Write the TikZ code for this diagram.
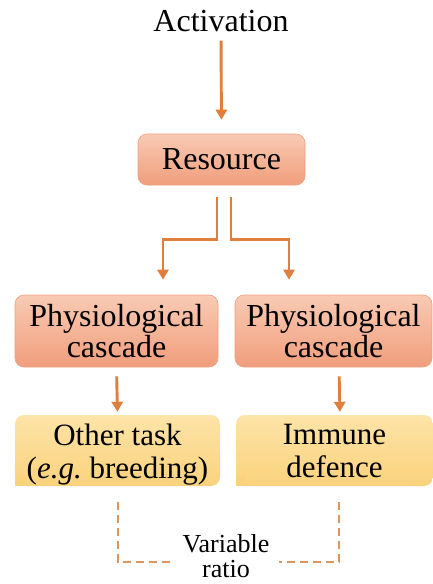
\documentclass[tikz,border=0pt]{standalone}
\usepackage{fontspec}
\setmainfont{Liberation Serif}
\usetikzlibrary{arrows.meta,calc}
\definecolor{arrc}{RGB}{224,126,60}
\definecolor{saltop}{RGB}{249,202,180}
\definecolor{salbot}{RGB}{240,158,124}
\definecolor{salline}{RGB}{236,160,128}
\definecolor{yeltop}{RGB}{253,228,168}
\definecolor{yelbot}{RGB}{250,210,124}
\definecolor{dashc}{RGB}{222,150,95}
\tikzset{
  arr/.style={draw=arrc, line width=2.9pt, -{Triangle[length=10pt,width=11pt]}},
  dashline/.style={draw=dashc, line width=2pt, dash pattern=on 8pt off 5pt},
  salbox/.style={rounded corners=9pt, top color=saltop, bottom color=salbot, draw=salline, line width=0.6pt,
     align=center, inner sep=0pt, font=\fontsize{32}{31}\selectfont},
  yelbox/.style={rounded corners=9pt, top color=yeltop, bottom color=yelbot,
     align=center, inner sep=0pt, font=\fontsize{31}{33}\selectfont\frenchspacing},
  plain/.style={inner sep=0pt, align=center}
}
\begin{document}
\begin{tikzpicture}[x=1pt,y=-1pt]
\useasboundingbox (0,0) rectangle (433,584);
% nodes
\node[plain, font=\fontsize{32}{32}\selectfont, anchor=base] (act) at (221,31) {Activation};
\node[salbox, minimum width=167pt, minimum height=51pt] (res) at (221.5,159.5) {Resource};
\node[salbox, minimum width=203pt, minimum height=72pt] (p1) at (116.5,331) {Physiological\\cascade};
\node[salbox, minimum width=197pt, minimum height=72pt] (p2) at (333.5,331) {Physiological\\cascade};
\node[yelbox, minimum width=205pt, minimum height=71pt] (y1) at (117.5,450.5) {\rule{0pt}{29pt}Other task\\(\textit{e.g.} breeding)};
\fill[yelbot] (y1.south west) rectangle ++(10,-10);
\node[yelbox, minimum width=197pt, minimum height=71pt] (y2) at (334.5,450.5) {\rule{0pt}{22pt}Immune\\defence};
\fill[yelbot] (y2.south west) rectangle ++(10,-10);
\node[plain, font=\fontsize{26}{25}\selectfont] (var) at (226,556) {Variable\\ratio};
% connectors
\draw[arr, shorten <=9pt, shorten >=14pt] (act.south) -- (res.north);
\draw[arr, shorten >=15pt] ([xshift=-4.5pt,yshift=-12pt]res.south) |- ([xshift=46.5pt,yshift=55pt]p1.north) -- ([xshift=46.5pt]p1.north);
\draw[arr, shorten >=15pt] ([xshift=9.5pt,yshift=-12pt]res.south) |- ([xshift=-44.5pt,yshift=55pt]p2.north) -- ([xshift=-44.5pt]p2.north);
\draw[arr, shorten <=9pt, shorten >=3pt] (p1.south) -- (y1.north);
\draw[arr, shorten <=9pt, shorten >=3pt] ([xshift=5.5pt]p2.south) -- ([xshift=5.5pt]y2.north);
\draw[dashline] ([yshift=-16pt]y1.south) |- ([xshift=-11pt,yshift=-6pt]var.west);
\draw[dashline] ([xshift=4.5pt,yshift=-16pt]y2.south) |- ([xshift=9pt,yshift=-6pt]var.east);
\end{tikzpicture}
\end{document}
